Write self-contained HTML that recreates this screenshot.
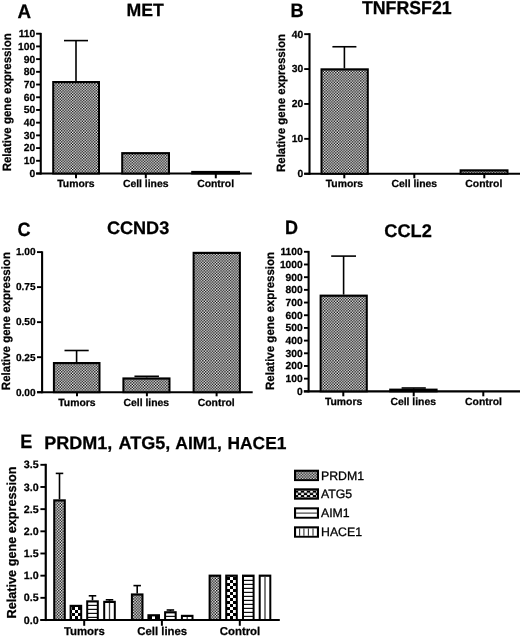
<!DOCTYPE html><html><head><meta charset="utf-8"><style>html,body{margin:0;padding:0;background:#fff;overflow:hidden;width:520px;height:638px;}svg{display:block;font-family:"Liberation Sans", sans-serif;will-change:transform;text-rendering:geometricPrecision;}text[font-weight="bold"]{stroke:#000;stroke-width:0.25px;}</style></head><body>
<svg width="520" height="638" viewBox="0 0 520 638">
<defs>
<pattern id="pf" width="2.77" height="2.77" patternUnits="userSpaceOnUse"><rect width="2.77" height="2.77" fill="#fff"/><rect width="1.385" height="1.385" fill="#000"/><rect x="1.385" y="1.385" width="1.385" height="1.385" fill="#000"/></pattern>
<pattern id="pc" width="6" height="6" patternUnits="userSpaceOnUse"><rect width="6" height="6" fill="#fff"/><rect width="3" height="3" fill="#000"/><rect x="3" y="3" width="3" height="3" fill="#000"/></pattern>
<pattern id="ph" width="4" height="4" patternUnits="userSpaceOnUse"><rect width="4" height="4" fill="#fff"/><rect y="2.5" width="4" height="1.5" fill="#000"/></pattern>
<pattern id="pv" width="4.5" height="4" patternUnits="userSpaceOnUse"><rect width="4.5" height="4" fill="#fff"/><rect x="3.3" width="1.1" height="4" fill="#000"/></pattern>
<pattern id="q1" width="6" height="6" patternUnits="userSpaceOnUse" patternTransform="translate(72,607)"><rect width="6" height="6" fill="#000"/><rect x="3" width="3" height="3" fill="#fff"/><rect y="3" width="3" height="3" fill="#fff"/></pattern>
<pattern id="q2" width="4" height="4" patternUnits="userSpaceOnUse" patternTransform="translate(88,602)"><rect width="4" height="4" fill="#fff"/><rect y="2.8" width="4" height="1.25" fill="#111"/></pattern>
<pattern id="q3" width="6" height="6" patternUnits="userSpaceOnUse" patternTransform="translate(149,616)"><rect width="6" height="6" fill="#000"/><rect x="3" width="3" height="3" fill="#fff"/><rect y="3" width="3" height="3" fill="#fff"/></pattern>
<pattern id="q4" width="4" height="4" patternUnits="userSpaceOnUse" patternTransform="translate(166,613)"><rect width="4" height="4" fill="#fff"/><rect y="2.8" width="4" height="1.25" fill="#111"/></pattern>
<pattern id="q5" width="6" height="6" patternUnits="userSpaceOnUse" patternTransform="translate(227,577)"><rect width="6" height="6" fill="#000"/><rect x="3" width="3" height="3" fill="#fff"/><rect y="3" width="3" height="3" fill="#fff"/></pattern>
<pattern id="q6" width="4" height="4" patternUnits="userSpaceOnUse" patternTransform="translate(244,577)"><rect width="4" height="4" fill="#fff"/><rect y="2.8" width="4" height="1.25" fill="#111"/></pattern>
<pattern id="q7" width="6" height="4.6" patternUnits="userSpaceOnUse" patternTransform="translate(295,490.5)"><rect width="6" height="4.6" fill="#000"/><rect x="3.2" width="2.6" height="2.3" fill="#fff"/><rect x="0.2" y="2.3" width="2.6" height="2.3" fill="#fff"/></pattern>
</defs>
<rect width="520" height="638" fill="#fff"/>
<g fill="#000">
<text transform="translate(17.5,18.1) scale(1,1.04)" font-size="18.8" font-weight="bold" text-anchor="start">A</text>
<text x="145.2" y="15.8" font-size="17.7" font-weight="bold" text-anchor="middle">MET</text>
<line x1="40.75" y1="32.9" x2="40.75" y2="174.55" stroke="#000" stroke-width="2.1"/>
<line x1="36.1" y1="173.5" x2="40.75" y2="173.5" stroke="#000" stroke-width="1.9"/>
<text x="35.3" y="176.91" font-size="10.3" font-weight="bold" text-anchor="end">0</text>
<line x1="36.1" y1="160.79" x2="40.75" y2="160.79" stroke="#000" stroke-width="1.9"/>
<text x="35.3" y="164.2" font-size="10.3" font-weight="bold" text-anchor="end">10</text>
<line x1="36.1" y1="148.08" x2="40.75" y2="148.08" stroke="#000" stroke-width="1.9"/>
<text x="35.3" y="151.49" font-size="10.3" font-weight="bold" text-anchor="end">20</text>
<line x1="36.1" y1="135.37" x2="40.75" y2="135.37" stroke="#000" stroke-width="1.9"/>
<text x="35.3" y="138.78" font-size="10.3" font-weight="bold" text-anchor="end">30</text>
<line x1="36.1" y1="122.66" x2="40.75" y2="122.66" stroke="#000" stroke-width="1.9"/>
<text x="35.3" y="126.07" font-size="10.3" font-weight="bold" text-anchor="end">40</text>
<line x1="36.1" y1="109.96" x2="40.75" y2="109.96" stroke="#000" stroke-width="1.9"/>
<text x="35.3" y="113.36" font-size="10.3" font-weight="bold" text-anchor="end">50</text>
<line x1="36.1" y1="97.25" x2="40.75" y2="97.25" stroke="#000" stroke-width="1.9"/>
<text x="35.3" y="100.65" font-size="10.3" font-weight="bold" text-anchor="end">60</text>
<line x1="36.1" y1="84.54" x2="40.75" y2="84.54" stroke="#000" stroke-width="1.9"/>
<text x="35.3" y="87.95" font-size="10.3" font-weight="bold" text-anchor="end">70</text>
<line x1="36.1" y1="71.83" x2="40.75" y2="71.83" stroke="#000" stroke-width="1.9"/>
<text x="35.3" y="75.24" font-size="10.3" font-weight="bold" text-anchor="end">80</text>
<line x1="36.1" y1="59.12" x2="40.75" y2="59.12" stroke="#000" stroke-width="1.9"/>
<text x="35.3" y="62.53" font-size="10.3" font-weight="bold" text-anchor="end">90</text>
<line x1="36.1" y1="46.41" x2="40.75" y2="46.41" stroke="#000" stroke-width="1.9"/>
<text x="35.3" y="49.82" font-size="10.3" font-weight="bold" text-anchor="end">100</text>
<line x1="36.1" y1="33.7" x2="40.75" y2="33.7" stroke="#000" stroke-width="1.9"/>
<text x="35.3" y="37.11" font-size="10.3" font-weight="bold" text-anchor="end">110</text>
<line x1="36.1" y1="173.5" x2="251.8" y2="173.5" stroke="#000" stroke-width="2.1"/>
<line x1="76" y1="173.5" x2="76" y2="178.3" stroke="#000" stroke-width="2"/>
<line x1="145.8" y1="173.5" x2="145.8" y2="178.3" stroke="#000" stroke-width="2"/>
<line x1="215.8" y1="173.5" x2="215.8" y2="178.3" stroke="#000" stroke-width="2"/>
<text x="75.9" y="186.9" font-size="10.4" font-weight="bold" text-anchor="middle">Tumors</text>
<text x="145.7" y="186.9" font-size="10.4" font-weight="bold" text-anchor="middle">Cell lines</text>
<text x="215.6" y="186.9" font-size="10.4" font-weight="bold" text-anchor="middle">Control</text>
<rect x="52.2" y="81" width="47.8" height="93.5" fill="#000"/>
<rect x="54.2" y="83.2" width="43.8" height="89.3" fill="url(#pf)"/>
<rect x="121.2" y="152.1" width="48.8" height="22.4" fill="#000"/>
<rect x="123.2" y="154.3" width="44.8" height="18.2" fill="url(#pf)"/>
<rect x="191.2" y="170.9" width="48.8" height="3.6" fill="#000"/>
<line x1="76" y1="81" x2="76" y2="40.6" stroke="#000" stroke-width="1.6"/>
<line x1="64" y1="40.6" x2="88" y2="40.6" stroke="#000" stroke-width="1.6"/>
<text transform="translate(11.1,171.35) rotate(-90) scale(1,1.04)" font-size="11.5" font-weight="bold">Relative gene expression</text>
<text transform="translate(290.4,16.7) scale(1,1.06)" font-size="18.3" font-weight="bold" text-anchor="start">B</text>
<text transform="translate(406.8,14.4) scale(1,1.05)" font-size="17.75" font-weight="bold" text-anchor="middle">TNFRSF21</text>
<line x1="309.5" y1="33.2" x2="309.5" y2="174.8" stroke="#000" stroke-width="2.1"/>
<line x1="304.2" y1="173.75" x2="309.5" y2="173.75" stroke="#000" stroke-width="1.9"/>
<text x="303.2" y="177.16" font-size="10.3" font-weight="bold" text-anchor="end">0</text>
<line x1="304.2" y1="138.85" x2="309.5" y2="138.85" stroke="#000" stroke-width="1.9"/>
<text x="303.2" y="142.26" font-size="10.3" font-weight="bold" text-anchor="end">10</text>
<line x1="304.2" y1="103.95" x2="309.5" y2="103.95" stroke="#000" stroke-width="1.9"/>
<text x="303.2" y="107.36" font-size="10.3" font-weight="bold" text-anchor="end">20</text>
<line x1="304.2" y1="69.05" x2="309.5" y2="69.05" stroke="#000" stroke-width="1.9"/>
<text x="303.2" y="72.46" font-size="10.3" font-weight="bold" text-anchor="end">30</text>
<line x1="304.2" y1="34.15" x2="309.5" y2="34.15" stroke="#000" stroke-width="1.9"/>
<text x="303.2" y="37.56" font-size="10.3" font-weight="bold" text-anchor="end">40</text>
<line x1="304.2" y1="173.75" x2="522" y2="173.75" stroke="#000" stroke-width="2.1"/>
<line x1="344.3" y1="173.75" x2="344.3" y2="178.3" stroke="#000" stroke-width="2"/>
<line x1="414.3" y1="173.75" x2="414.3" y2="178.3" stroke="#000" stroke-width="2"/>
<line x1="484.3" y1="173.75" x2="484.3" y2="178.3" stroke="#000" stroke-width="2"/>
<text x="344.4" y="187.2" font-size="10.4" font-weight="bold" text-anchor="middle">Tumors</text>
<text x="414.3" y="187.2" font-size="10.4" font-weight="bold" text-anchor="middle">Cell lines</text>
<text x="483.8" y="187.2" font-size="10.4" font-weight="bold" text-anchor="middle">Control</text>
<rect x="320.5" y="68.3" width="48.3" height="106.45" fill="#000"/>
<rect x="322.5" y="70.5" width="44.3" height="102.25" fill="url(#pf)"/>
<rect x="459.6" y="169.3" width="48.9" height="5.45" fill="#000"/>
<rect x="461.6" y="171.5" width="44.9" height="1.25" fill="url(#pf)"/>
<line x1="344.4" y1="68.3" x2="344.4" y2="46.75" stroke="#000" stroke-width="1.6"/>
<line x1="332.4" y1="46.75" x2="356.4" y2="46.75" stroke="#000" stroke-width="1.6"/>
<text transform="translate(285,172.05) rotate(-90) scale(1,1.04)" font-size="11.5" font-weight="bold">Relative gene expression</text>
<text transform="translate(17.6,235.5) scale(1,1.07)" font-size="18" font-weight="bold" text-anchor="start">C</text>
<text x="138.1" y="233.8" font-size="18.1" font-weight="bold" text-anchor="middle">CCND3</text>
<line x1="42.1" y1="251.3" x2="42.1" y2="393.25" stroke="#000" stroke-width="2.1"/>
<line x1="37" y1="392.2" x2="42.1" y2="392.2" stroke="#000" stroke-width="1.9"/>
<text x="35.6" y="395.54" font-size="10.1" font-weight="bold" text-anchor="end">0.00</text>
<line x1="37" y1="357.18" x2="42.1" y2="357.18" stroke="#000" stroke-width="1.9"/>
<text x="35.6" y="360.51" font-size="10.1" font-weight="bold" text-anchor="end">0.25</text>
<line x1="37" y1="322.15" x2="42.1" y2="322.15" stroke="#000" stroke-width="1.9"/>
<text x="35.6" y="325.49" font-size="10.1" font-weight="bold" text-anchor="end">0.50</text>
<line x1="37" y1="287.12" x2="42.1" y2="287.12" stroke="#000" stroke-width="1.9"/>
<text x="35.6" y="290.46" font-size="10.1" font-weight="bold" text-anchor="end">0.75</text>
<line x1="37" y1="252.1" x2="42.1" y2="252.1" stroke="#000" stroke-width="1.9"/>
<text x="35.6" y="255.44" font-size="10.1" font-weight="bold" text-anchor="end">1.00</text>
<line x1="37.1" y1="392.2" x2="252.7" y2="392.2" stroke="#000" stroke-width="2.1"/>
<line x1="77" y1="392.2" x2="77" y2="396.3" stroke="#000" stroke-width="2"/>
<line x1="146.9" y1="392.2" x2="146.9" y2="396.3" stroke="#000" stroke-width="2"/>
<line x1="216.6" y1="392.2" x2="216.6" y2="396.3" stroke="#000" stroke-width="2"/>
<text x="76.9" y="406.3" font-size="10.4" font-weight="bold" text-anchor="middle">Tumors</text>
<text x="146.3" y="406.3" font-size="10.4" font-weight="bold" text-anchor="middle">Cell lines</text>
<text x="216.2" y="406.3" font-size="10.4" font-weight="bold" text-anchor="middle">Control</text>
<rect x="52.9" y="362" width="47.6" height="31.2" fill="#000"/>
<rect x="54.9" y="364.2" width="43.6" height="27" fill="url(#pf)"/>
<rect x="122.4" y="377.4" width="48.1" height="15.8" fill="#000"/>
<rect x="124.4" y="379.6" width="44.1" height="11.6" fill="url(#pf)"/>
<rect x="192.6" y="251.8" width="48.3" height="141.4" fill="#000"/>
<rect x="194.6" y="254" width="44.3" height="137.2" fill="url(#pf)"/>
<line x1="76.6" y1="362" x2="76.6" y2="350.5" stroke="#000" stroke-width="1.6"/>
<line x1="64.5" y1="350.5" x2="88.7" y2="350.5" stroke="#000" stroke-width="1.6"/>
<line x1="146.7" y1="377.4" x2="146.7" y2="376.3" stroke="#000" stroke-width="1.6"/>
<line x1="134.45" y1="376.3" x2="158.95" y2="376.3" stroke="#000" stroke-width="1.6"/>
<text transform="translate(9.9,390.15) rotate(-90) scale(1,1.04)" font-size="11.5" font-weight="bold">Relative gene expression</text>
<text transform="translate(285,233.8) scale(1,1.07)" font-size="18" font-weight="bold" text-anchor="start">D</text>
<text x="408" y="236.6" font-size="18.2" font-weight="bold" text-anchor="middle">CCL2</text>
<line x1="308.6" y1="250.9" x2="308.6" y2="392.4" stroke="#000" stroke-width="2.1"/>
<line x1="304" y1="391.35" x2="308.6" y2="391.35" stroke="#000" stroke-width="1.9"/>
<text x="302.8" y="394.76" font-size="10.3" font-weight="bold" text-anchor="end">0</text>
<line x1="304" y1="378.66" x2="308.6" y2="378.66" stroke="#000" stroke-width="1.9"/>
<text x="302.8" y="382.07" font-size="10.3" font-weight="bold" text-anchor="end">100</text>
<line x1="304" y1="365.98" x2="308.6" y2="365.98" stroke="#000" stroke-width="1.9"/>
<text x="302.8" y="369.39" font-size="10.3" font-weight="bold" text-anchor="end">200</text>
<line x1="304" y1="353.29" x2="308.6" y2="353.29" stroke="#000" stroke-width="1.9"/>
<text x="302.8" y="356.7" font-size="10.3" font-weight="bold" text-anchor="end">300</text>
<line x1="304" y1="340.61" x2="308.6" y2="340.61" stroke="#000" stroke-width="1.9"/>
<text x="302.8" y="344.01" font-size="10.3" font-weight="bold" text-anchor="end">400</text>
<line x1="304" y1="327.92" x2="308.6" y2="327.92" stroke="#000" stroke-width="1.9"/>
<text x="302.8" y="331.33" font-size="10.3" font-weight="bold" text-anchor="end">500</text>
<line x1="304" y1="315.23" x2="308.6" y2="315.23" stroke="#000" stroke-width="1.9"/>
<text x="302.8" y="318.64" font-size="10.3" font-weight="bold" text-anchor="end">600</text>
<line x1="304" y1="302.55" x2="308.6" y2="302.55" stroke="#000" stroke-width="1.9"/>
<text x="302.8" y="305.96" font-size="10.3" font-weight="bold" text-anchor="end">700</text>
<line x1="304" y1="289.86" x2="308.6" y2="289.86" stroke="#000" stroke-width="1.9"/>
<text x="302.8" y="293.27" font-size="10.3" font-weight="bold" text-anchor="end">800</text>
<line x1="304" y1="277.18" x2="308.6" y2="277.18" stroke="#000" stroke-width="1.9"/>
<text x="302.8" y="280.58" font-size="10.3" font-weight="bold" text-anchor="end">900</text>
<line x1="304" y1="264.49" x2="308.6" y2="264.49" stroke="#000" stroke-width="1.9"/>
<text x="302.8" y="267.9" font-size="10.3" font-weight="bold" text-anchor="end">1000</text>
<line x1="304" y1="251.8" x2="308.6" y2="251.8" stroke="#000" stroke-width="1.9"/>
<text x="302.8" y="255.21" font-size="10.3" font-weight="bold" text-anchor="end">1100</text>
<line x1="303.8" y1="391.35" x2="522" y2="391.35" stroke="#000" stroke-width="2.1"/>
<line x1="343.3" y1="391.35" x2="343.3" y2="396.3" stroke="#000" stroke-width="2"/>
<line x1="413.7" y1="391.35" x2="413.7" y2="396.3" stroke="#000" stroke-width="2"/>
<line x1="483.3" y1="391.35" x2="483.3" y2="396.3" stroke="#000" stroke-width="2"/>
<text x="343.6" y="405.3" font-size="10.4" font-weight="bold" text-anchor="middle">Tumors</text>
<text x="413.2" y="405.3" font-size="10.4" font-weight="bold" text-anchor="middle">Cell lines</text>
<text x="483.5" y="405.3" font-size="10.4" font-weight="bold" text-anchor="middle">Control</text>
<rect x="319.6" y="294.6" width="48.2" height="97.75" fill="#000"/>
<rect x="321.6" y="296.8" width="44.2" height="93.55" fill="url(#pf)"/>
<rect x="389.2" y="388.6" width="48.4" height="3.75" fill="#000"/>
<line x1="343.6" y1="294.6" x2="343.6" y2="256.1" stroke="#000" stroke-width="1.6"/>
<line x1="331.2" y1="256.1" x2="356" y2="256.1" stroke="#000" stroke-width="1.6"/>
<line x1="413.7" y1="388.6" x2="413.7" y2="388" stroke="#000" stroke-width="1.6"/>
<line x1="401.6" y1="388" x2="425.8" y2="388" stroke="#000" stroke-width="1.6"/>
<text transform="translate(274.2,389.95) rotate(-90) scale(1,1.04)" font-size="11.5" font-weight="bold">Relative gene expression</text>
<text transform="translate(20.2,448) scale(1,1.08)" font-size="18" font-weight="bold" text-anchor="start">E</text>
<text x="44.2" y="448.7" font-size="18.05" font-weight="bold" text-anchor="start">PRDM1,</text>
<text x="118.6" y="448.7" font-size="18.05" font-weight="bold" text-anchor="start">ATG5,</text>
<text x="175.3" y="448.7" font-size="17.5" font-weight="bold" text-anchor="start">AIM1,</text>
<text x="227.5" y="448.7" font-size="17.4" font-weight="bold" text-anchor="start">HACE1</text>
<line x1="45.75" y1="463.8" x2="45.75" y2="621.05" stroke="#000" stroke-width="2.2"/>
<line x1="40.4" y1="620" x2="45.75" y2="620" stroke="#000" stroke-width="1.9"/>
<text x="38.6" y="623.55" font-size="10.7" font-weight="bold" text-anchor="end">0.0</text>
<line x1="40.4" y1="597.83" x2="45.75" y2="597.83" stroke="#000" stroke-width="1.9"/>
<text x="38.6" y="601.38" font-size="10.7" font-weight="bold" text-anchor="end">0.5</text>
<line x1="40.4" y1="575.66" x2="45.75" y2="575.66" stroke="#000" stroke-width="1.9"/>
<text x="38.6" y="579.21" font-size="10.7" font-weight="bold" text-anchor="end">1.0</text>
<line x1="40.4" y1="553.49" x2="45.75" y2="553.49" stroke="#000" stroke-width="1.9"/>
<text x="38.6" y="557.04" font-size="10.7" font-weight="bold" text-anchor="end">1.5</text>
<line x1="40.4" y1="531.32" x2="45.75" y2="531.32" stroke="#000" stroke-width="1.9"/>
<text x="38.6" y="534.87" font-size="10.7" font-weight="bold" text-anchor="end">2.0</text>
<line x1="40.4" y1="509.15" x2="45.75" y2="509.15" stroke="#000" stroke-width="1.9"/>
<text x="38.6" y="512.7" font-size="10.7" font-weight="bold" text-anchor="end">2.5</text>
<line x1="40.4" y1="486.98" x2="45.75" y2="486.98" stroke="#000" stroke-width="1.9"/>
<text x="38.6" y="490.53" font-size="10.7" font-weight="bold" text-anchor="end">3.0</text>
<line x1="40.4" y1="464.81" x2="45.75" y2="464.81" stroke="#000" stroke-width="1.9"/>
<text x="38.6" y="468.36" font-size="10.7" font-weight="bold" text-anchor="end">3.5</text>
<line x1="40.4" y1="620" x2="279.8" y2="620" stroke="#000" stroke-width="2.1"/>
<line x1="84.2" y1="620" x2="84.2" y2="625.8" stroke="#000" stroke-width="2"/>
<line x1="161.9" y1="620" x2="161.9" y2="625.8" stroke="#000" stroke-width="2"/>
<line x1="239.8" y1="620" x2="239.8" y2="625.8" stroke="#000" stroke-width="2"/>
<text x="84.4" y="635.4" font-size="11.4" font-weight="bold" text-anchor="middle">Tumors</text>
<text x="162.2" y="635.4" font-size="11.4" font-weight="bold" text-anchor="middle">Cell lines</text>
<text x="240" y="635.4" font-size="11.4" font-weight="bold" text-anchor="middle">Control</text>
<rect x="53.2" y="499.3" width="12.6" height="121.7" fill="#000"/>
<rect x="55.2" y="501.5" width="8.6" height="117.5" fill="url(#pf)"/>
<line x1="59.5" y1="499.3" x2="59.5" y2="473.4" stroke="#000" stroke-width="1.6"/>
<line x1="55.75" y1="473.4" x2="63.25" y2="473.4" stroke="#000" stroke-width="1.6"/>
<rect x="69.6" y="604.8" width="12.6" height="16.2" fill="#000"/>
<rect x="71.6" y="607" width="8.6" height="12" fill="url(#q1)"/>
<rect x="86.2" y="600.3" width="12.6" height="20.7" fill="#000"/>
<rect x="88.2" y="602.5" width="8.6" height="16.5" fill="url(#q2)"/>
<line x1="92.5" y1="600.3" x2="92.5" y2="595.8" stroke="#000" stroke-width="1.6"/>
<line x1="88.75" y1="595.8" x2="96.25" y2="595.8" stroke="#000" stroke-width="1.6"/>
<rect x="103.2" y="600.8" width="12.6" height="20.2" fill="#000"/>
<rect x="105.2" y="603" width="8.6" height="16" fill="#fff"/>
<rect x="108.85" y="603" width="1.3" height="16" fill="#3a3a3a"/>
<line x1="109.5" y1="600.8" x2="109.5" y2="599.8" stroke="#000" stroke-width="1.6"/>
<line x1="105.75" y1="599.8" x2="113.25" y2="599.8" stroke="#000" stroke-width="1.6"/>
<rect x="130.9" y="593.4" width="12.6" height="27.6" fill="#000"/>
<rect x="132.9" y="595.6" width="8.6" height="23.4" fill="url(#pf)"/>
<line x1="137.2" y1="593.4" x2="137.2" y2="585.6" stroke="#000" stroke-width="1.6"/>
<line x1="133.45" y1="585.6" x2="140.95" y2="585.6" stroke="#000" stroke-width="1.6"/>
<rect x="147.4" y="614.2" width="12.6" height="6.8" fill="#000"/>
<rect x="149.4" y="616.4" width="8.6" height="2.6" fill="url(#q3)"/>
<rect x="164.1" y="611.2" width="12.6" height="9.8" fill="#000"/>
<rect x="166.1" y="613.4" width="8.6" height="5.6" fill="url(#q4)"/>
<line x1="170.4" y1="611.2" x2="170.4" y2="610" stroke="#000" stroke-width="1.6"/>
<line x1="166.65" y1="610" x2="174.15" y2="610" stroke="#000" stroke-width="1.6"/>
<rect x="180.9" y="614.8" width="12.6" height="6.2" fill="#000"/>
<rect x="182.9" y="617" width="8.6" height="2" fill="#fff"/>
<rect x="186.55" y="617" width="1.3" height="2" fill="#3a3a3a"/>
<rect x="208.6" y="574.6" width="12.6" height="46.4" fill="#000"/>
<rect x="210.6" y="576.8" width="8.6" height="42.2" fill="url(#pf)"/>
<rect x="225.2" y="574.6" width="12.6" height="46.4" fill="#000"/>
<rect x="227.2" y="576.8" width="8.6" height="42.2" fill="url(#q5)"/>
<rect x="242" y="574.6" width="12.6" height="46.4" fill="#000"/>
<rect x="244" y="576.8" width="8.6" height="42.2" fill="url(#q6)"/>
<rect x="258.7" y="574.6" width="12.6" height="46.4" fill="#000"/>
<rect x="260.7" y="576.8" width="8.6" height="42.2" fill="#fff"/>
<rect x="264.35" y="576.8" width="1.3" height="42.2" fill="#3a3a3a"/>
<text transform="translate(16,618.4) rotate(-90) scale(1,1.03)" font-size="12.67" font-weight="bold">Relative gene expression</text>
<rect x="294" y="469.7" width="25" height="11.4" fill="#000"/>
<rect x="296.1" y="471.8" width="20.8" height="7.4" fill="url(#pf)"/>
<text x="321" y="479.6" font-size="12.3" font-weight="normal" text-anchor="start" stroke="#000" stroke-width="0.3">PRDM1</text>
<rect x="294" y="488.3" width="25" height="11.4" fill="#000"/>
<rect x="296.1" y="490.4" width="20.8" height="7.4" fill="url(#q7)"/>
<text x="321" y="498.2" font-size="12.3" font-weight="normal" text-anchor="start" stroke="#000" stroke-width="0.3">ATG5</text>
<rect x="294" y="507.3" width="25" height="11.4" fill="#000"/>
<rect x="296.1" y="509.4" width="20.8" height="7.4" fill="#fff"/>
<rect x="296.1" y="512.55" width="20.8" height="1.1" fill="#333"/>
<text x="321" y="517.2" font-size="12.3" font-weight="normal" text-anchor="start" stroke="#000" stroke-width="0.3">AIM1</text>
<rect x="294" y="526.3" width="25" height="11.4" fill="#000"/>
<rect x="296.1" y="528.4" width="20.8" height="7.4" fill="#fff"/>
<rect x="299.05" y="528.4" width="1.1" height="7.4" fill="#333"/>
<rect x="303.35" y="528.4" width="1.1" height="7.4" fill="#333"/>
<rect x="307.85" y="528.4" width="1.1" height="7.4" fill="#333"/>
<rect x="312.45" y="528.4" width="1.1" height="7.4" fill="#333"/>
<text x="321" y="536.2" font-size="12.3" font-weight="normal" text-anchor="start" stroke="#000" stroke-width="0.3">HACE1</text>
</g></svg></body></html>
